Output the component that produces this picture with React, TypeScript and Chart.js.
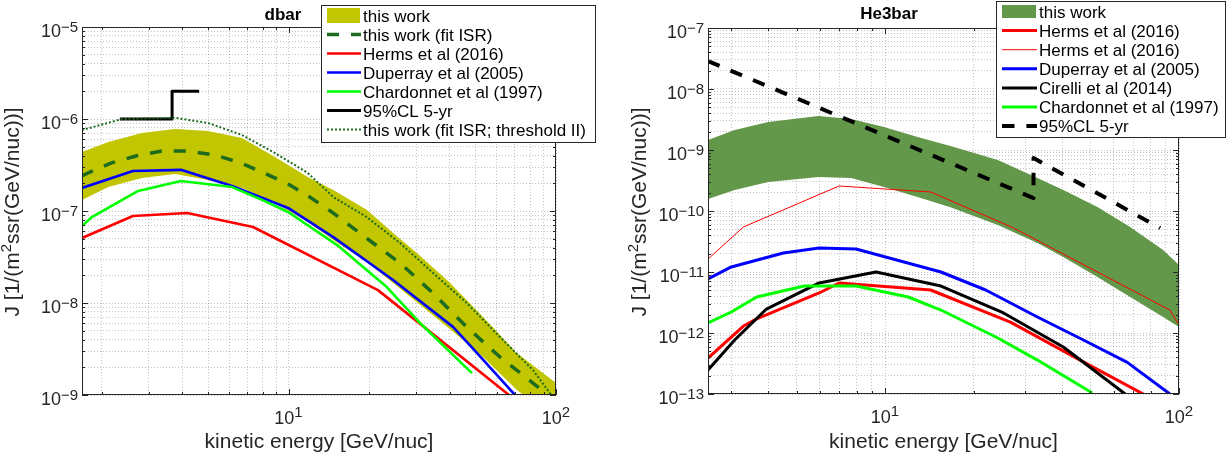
import React, { useEffect, useRef } from "react";
import { Chart, registerables } from "chart.js";

Chart.register(...registerables);

const FONT = '"Liberation Sans", Arial, Helvetica, sans-serif';
const AXIS_COLOR = "#262626";
const W = 616;
const H = 457;

// ---------------- dbar panel data ----------------
const DBAR_BAND_E = [1.69, 2.12, 2.83, 3.77, 5.0, 6.7, 8.9, 11.8, 14.7, 19.6, 24.6, 30.2, 40.2, 53.4, 71.4, 100];
const DBAR_BAND_HI = [4.38e-7, 5.62e-7, 7.05e-7, 7.78e-7, 7.4e-7, 6.2e-7, 3.86e-7, 2.34e-7, 1.69e-7, 1.03e-7, 5.77e-8, 3.49e-8, 1.65e-8, 7.05e-9, 2.86e-9, 1.35e-9];
const DBAR_BAND_LO = [1.32e-7, 1.82e-7, 2.29e-7, 2.52e-7, 2.17e-7, 1.78e-7, 1.22e-7, 7.6e-8, 4.84e-8, 2.79e-8, 1.65e-8, 1.02e-8, 5.2e-9, 2.59e-9, 1.13e-9, 5.4e-10];

const DBAR_FIT_E = [1.69, 1.78, 2.18, 2.69, 3.37, 4.21, 5.31, 6.64, 8.1, 9.96, 12.0, 14.7, 20.7, 26.1, 34.7, 46.4, 61.7, 82, 100];
const DBAR_FIT_J = [2.4e-7, 2.59e-7, 3.33e-7, 3.96e-7, 4.49e-7, 4.49e-7, 4.06e-7, 3.33e-7, 2.59e-7, 1.96e-7, 1.42e-7, 9.5e-8, 4.49e-8, 2.72e-8, 1.28e-8, 5.48e-9, 2.59e-9, 1.35e-9, 8.5e-10];

const DBAR_HERMS_E = [1.69, 2.62, 4.18, 7.37, 21.6, 66.7, 100];
const DBAR_HERMS_J = [5.09e-8, 8.83e-8, 9.5e-8, 6.7e-8, 1.38e-8, 1e-9, 3.9e-10];

const DBAR_DUP_E = [1.69, 2.62, 3.96, 6.15, 9.96, 14.7, 24.6, 41.2, 50.7, 71.4, 100];
const DBAR_DUP_J = [1.78e-7, 2.72e-7, 2.8e-7, 1.87e-7, 1.08e-7, 5.2e-8, 1.78e-8, 5.5e-9, 2.86e-9, 9.5e-10, 3.3e-10];

const DBAR_CHAR_E = [1.69, 1.84, 2.74, 3.96, 6.15, 7.96, 9.96, 15.2, 23.3, 31, 48.5];
const DBAR_CHAR_J = [6.87e-8, 8.6e-8, 1.65e-7, 2.12e-7, 1.82e-7, 1.32e-7, 9.75e-8, 4.26e-8, 1.49e-8, 6.07e-9, 1.73e-9];

const DBAR_CL_E = [2.34, 3.67, 3.67, 4.63];
const DBAR_CL_J = [1e-6, 1e-6, 2e-6, 2e-6];

const DBAR_THR_E = [1.69, 2.39, 3.77, 5.0, 6.7, 8.9, 11.8, 14.7, 19.6, 26.1, 34.7, 46.4, 61.7, 82, 100];
const DBAR_THR_J = [7.58e-7, 1.0e-6, 1.03e-6, 9.05e-7, 6.7e-7, 4.27e-7, 2.59e-7, 1.42e-7, 8.6e-8, 4.49e-8, 2.12e-8, 1e-8, 4.27e-9, 1.87e-9, 8.5e-10];

// ---------------- He3bar panel data ----------------
const HE_BAND_E = [2.5, 3.08, 4.01, 5.93, 7.67, 9.92, 12.9, 16.7, 24.2, 33.0, 40.4, 52.8, 68.2, 88.3, 100];
const HE_BAND_HI = [1.46e-9, 2.13e-9, 2.88e-9, 3.61e-9, 3.22e-9, 2.38e-9, 1.63e-9, 1.16e-9, 6.86e-10, 3.48e-10, 2.21e-10, 1.16e-10, 5.47e-11, 2.3e-11, 1.3e-11];
const HE_BAND_LO = [1.57e-10, 2.21e-10, 2.99e-10, 3.6e-10, 3.48e-10, 2.47e-10, 1.7e-10, 1.15e-10, 5.89e-11, 2.99e-11, 1.76e-11, 8.28e-12, 3.89e-12, 1.83e-12, 1.25e-12];

const HE_HERMS_E = [2.5, 3.3, 3.66, 5.97, 6.98, 14.3, 26.7, 46.1, 76.7, 100];
const HE_HERMS_J = [3.89e-13, 1.3e-12, 1.7e-12, 4.53e-12, 6.61e-12, 5.07e-12, 1.51e-12, 3.6e-13, 9.6e-14, 4e-14];

const HE_HERMS2_E = [2.5, 3.3, 6.98, 14.3, 27.4, 93.1, 100];
const HE_HERMS2_J = [1.63e-11, 5.47e-11, 2.57e-10, 2.05e-10, 5.26e-11, 2.38e-12, 1.35e-12];

const HE_DUP_E = [2.5, 3.0, 4.51, 5.97, 7.97, 15.5, 22.0, 33.0, 47.3, 66.7, 93.1, 100];
const HE_DUP_J = [7.67e-12, 1.21e-11, 2.05e-11, 2.47e-11, 2.38e-11, 1e-11, 5.07e-12, 1.83e-12, 7.67e-13, 3.3e-13, 1e-13, 8e-14];

const HE_CIR_E = [2.5, 3.08, 3.95, 5.97, 9.32, 15.5, 25.3, 40.4, 65.6, 80];
const HE_CIR_J = [2.47e-13, 7.67e-13, 2.47e-12, 6.61e-12, 1e-11, 5.89e-12, 2.13e-12, 5.89e-13, 1e-13, 4e-14];

const HE_CHAR_E = [2.5, 3.0, 3.66, 5.31, 7.97, 12.0, 15.5, 24.2, 33.0, 50.7];
const HE_CHAR_J = [1.46e-12, 2.21e-12, 3.89e-12, 5.89e-12, 5.89e-12, 3.89e-12, 2.38e-12, 8.28e-13, 3.6e-13, 1.04e-13];

const HE_CL_E = [2.5, 32.0, 32.0, 86.3];
const HE_CL_J = [2.87e-8, 1.63e-10, 7.4e-10, 5.26e-11];

// ---------------- types ----------------
type Series = { label: string; x: number[]; y: number[]; color: string; width: number; dash?: number[] };
type Band = { label: string; x: number[]; hi: number[]; lo: number[]; color: string };
type Legend = { left: number; top: number; right: number; bottom: number; row0: number; dy: number; s0: number; s1: number; tx: number; patchH: number };
type PanelCfg = {
  title: string; titleX: number; titleY: number;
  xMin: number; xMax: number; yMin: number; yMax: number;
  area: { left: number; top: number; right: number; bottom: number };
  yTitleX: number;
  band: Band; series: Series[]; legend: Legend;
};

const RED = "#ff0000";
const BLUE = "#0000ff";
const GREEN = "#00ff00";
const DKGREEN = "#1c6b1f";

const LEFT: PanelCfg = {
  title: "dbar", titleX: 283, titleY: 20,
  xMin: 1.69, xMax: 100, yMin: 1e-9, yMax: 1e-5,
  area: { left: 82, top: 27, right: 556, bottom: 395 },
  yTitleX: 19,
  band: { label: "this work", x: DBAR_BAND_E, hi: DBAR_BAND_HI, lo: DBAR_BAND_LO, color: "rgb(194,198,0)" },
  series: [
    { label: "this work (fit ISR)", x: DBAR_FIT_E, y: DBAR_FIT_J, color: DKGREEN, width: 3.5, dash: [12, 12] },
    { label: "Herms et al (2016)", x: DBAR_HERMS_E, y: DBAR_HERMS_J, color: RED, width: 2.6 },
    { label: "Duperray et al (2005)", x: DBAR_DUP_E, y: DBAR_DUP_J, color: BLUE, width: 2.6 },
    { label: "Chardonnet et al (1997)", x: DBAR_CHAR_E, y: DBAR_CHAR_J, color: GREEN, width: 2.6 },
    { label: "95%CL 5-yr", x: DBAR_CL_E, y: DBAR_CL_J, color: "#000000", width: 3 },
    { label: "this work (fit ISR; threshold II)", x: DBAR_THR_E, y: DBAR_THR_J, color: DKGREEN, width: 2, dash: [2, 2] },
  ],
  legend: { left: 321, top: 5, right: 596, bottom: 143, row0: 15.5, dy: 19, s0: 327, s1: 361, tx: 363, patchH: 15 },
};

const RIGHT: PanelCfg = {
  title: "He3bar", titleX: 273, titleY: 19,
  xMin: 2.5, xMax: 100, yMin: 1e-13, yMax: 1e-7,
  area: { left: 92, top: 28, right: 563, bottom: 394 },
  yTitleX: 29.5,
  band: { label: "this work", x: HE_BAND_E, hi: HE_BAND_HI, lo: HE_BAND_LO, color: "rgb(99,151,74)" },
  series: [
    { label: "Herms et al (2016)", x: HE_HERMS_E, y: HE_HERMS_J, color: RED, width: 3 },
    { label: "Herms et al (2016)", x: HE_HERMS2_E, y: HE_HERMS2_J, color: RED, width: 1 },
    { label: "Duperray et al (2005)", x: HE_DUP_E, y: HE_DUP_J, color: BLUE, width: 3 },
    { label: "Cirelli et al (2014)", x: HE_CIR_E, y: HE_CIR_J, color: "#000000", width: 3 },
    { label: "Chardonnet et al (1997)", x: HE_CHAR_E, y: HE_CHAR_J, color: GREEN, width: 3 },
    { label: "95%CL 5-yr", x: HE_CL_E, y: HE_CL_J, color: "#000000", width: 4, dash: [12.5, 11.9] },
  ],
  legend: { left: 380, top: 1, right: 610, bottom: 138, row0: 11.5, dy: 19.1, s0: 386, s1: 421, tx: 423, patchH: 13 },
};

// ---------------- helpers ----------------
function logTicks(min: number, max: number): number[] {
  const out: number[] = [];
  for (let e = Math.floor(Math.log10(min)); e <= Math.ceil(Math.log10(max)); e++) {
    for (let k = 1; k <= 9; k++) {
      const v = k * Math.pow(10, e);
      if (v >= min * 0.9999 && v <= max * 1.0001) out.push(v);
    }
  }
  return out;
}
const isMajor = (v: number) => Math.abs(Math.log10(v) - Math.round(Math.log10(v))) < 1e-6;

function drawPow(ctx: CanvasRenderingContext2D, x: number, y: number, exp: number, mode: "right" | "center", baseDy: number, expDy: number) {
  const base = "10";
  const ex = exp < 0 ? "\u2212" + String(-exp) : String(exp);
  ctx.font = `18px ${FONT}`;
  const wb = ctx.measureText(base).width;
  ctx.font = `15px ${FONT}`;
  const we = ctx.measureText(ex).width;
  const w = wb + we;
  const x0 = mode === "right" ? x - w : x - w / 2;
  ctx.textAlign = "left";
  ctx.textBaseline = "alphabetic";
  ctx.font = `18px ${FONT}`;
  ctx.fillText(base, x0, y + baseDy);
  ctx.font = `15px ${FONT}`;
  ctx.fillText(ex, x0 + wb, y + expDy);
}

function makeDecor(cfg: PanelCfg, xTicks: number[], yTicks: number[]) {
  return {
    id: "decor",
    afterDraw(chart: any) {
      const ctx: CanvasRenderingContext2D = chart.ctx;
      const a = chart.chartArea;
      const xs = chart.scales.x;
      const ys = chart.scales.y;
      ctx.save();
      ctx.setLineDash([]);
      ctx.strokeStyle = AXIS_COLOR;
      ctx.fillStyle = AXIS_COLOR;
      ctx.lineWidth = 1;
      const line = (x1: number, y1: number, x2: number, y2: number) => {
        ctx.beginPath();
        ctx.moveTo(x1, y1);
        ctx.lineTo(x2, y2);
        ctx.stroke();
      };
      // box
      ctx.strokeRect(a.left + 0.5, a.top + 0.5, a.right - a.left - 1, a.bottom - a.top - 1);
      // ticks (inward, all four sides)
      for (const v of xTicks) {
        const px = Math.round(xs.getPixelForValue(v)) + 0.5;
        const len = isMajor(v) ? 6 : 3;
        line(px, a.bottom, px, a.bottom - len);
        line(px, a.top, px, a.top + len);
      }
      for (const v of yTicks) {
        const py = Math.round(ys.getPixelForValue(v)) + 0.5;
        const len = isMajor(v) ? 6 : 3;
        line(a.left, py, a.left + len, py);
        line(a.right, py, a.right - len, py);
      }
      // tick labels
      for (const v of xTicks) {
        if (!isMajor(v)) continue;
        const px = xs.getPixelForValue(v);
        drawPow(ctx, px, a.bottom, Math.round(Math.log10(v)), "center", 29, 22);
      }
      for (const v of yTicks) {
        if (!isMajor(v)) continue;
        const py = ys.getPixelForValue(v);
        drawPow(ctx, a.left - 4, py, Math.round(Math.log10(v)), "right", 10, 4.5);
      }
      // x axis title
      ctx.font = `21px ${FONT}`;
      ctx.textAlign = "center";
      ctx.textBaseline = "alphabetic";
      ctx.fillText("kinetic energy [GeV/nuc]", (a.left + a.right) / 2, 448);
      // y axis title (rotated, with superscript)
      const parts = [
        { t: "J [1/(m", s: 21, dy: 0 },
        { t: "2", s: 15, dy: -8 },
        { t: "ssr(GeV/nuc))]", s: 21, dy: 0 },
      ];
      let tw = 0;
      for (const p of parts) {
        ctx.font = `${p.s}px ${FONT}`;
        tw += ctx.measureText(p.t).width;
      }
      ctx.save();
      ctx.translate(cfg.yTitleX, (a.top + a.bottom) / 2 + 1);
      ctx.rotate(-Math.PI / 2);
      ctx.textAlign = "left";
      let cx = -tw / 2;
      for (const p of parts) {
        ctx.font = `${p.s}px ${FONT}`;
        ctx.fillText(p.t, cx, p.dy);
        cx += ctx.measureText(p.t).width;
      }
      ctx.restore();
      // title
      ctx.font = `bold 17px ${FONT}`;
      ctx.textAlign = "center";
      ctx.fillStyle = "#000000";
      ctx.fillText(cfg.title, cfg.titleX, cfg.titleY);
      // legend
      const L = cfg.legend;
      ctx.fillStyle = "#ffffff";
      ctx.fillRect(L.left, L.top, L.right - L.left, L.bottom - L.top);
      ctx.strokeStyle = AXIS_COLOR;
      ctx.lineWidth = 1;
      ctx.strokeRect(L.left + 0.5, L.top + 0.5, L.right - L.left - 1, L.bottom - L.top - 1);
      const items: any[] = [{ kind: "patch", label: cfg.band.label, color: cfg.band.color }].concat(
        cfg.series.map((s) => ({ kind: "line", label: s.label, color: s.color, width: s.width, dash: s.dash || [] }))
      );
      items.forEach((it, i) => {
        const ry = L.row0 + L.dy * i;
        if (it.kind === "patch") {
          ctx.fillStyle = it.color;
          ctx.fillRect(L.s0, ry - L.patchH / 2, L.s1 - L.s0 - 1, L.patchH);
        } else {
          ctx.strokeStyle = it.color;
          ctx.lineWidth = it.width;
          ctx.lineCap = "butt";
          ctx.setLineDash(it.dash);
          ctx.beginPath();
          ctx.moveTo(L.s0, ry);
          ctx.lineTo(L.s1, ry);
          ctx.stroke();
          ctx.setLineDash([]);
        }
        ctx.fillStyle = "#000000";
        ctx.font = `17px ${FONT}`;
        ctx.textAlign = "left";
        ctx.textBaseline = "alphabetic";
        ctx.fillText(it.label, L.tx, ry + 6);
      });
      ctx.restore();
    },
  };
}

function Panel({ cfg }: { cfg: PanelCfg }) {
  const ref = useRef<HTMLCanvasElement>(null);
  useEffect(() => {
    const canvas = ref.current;
    if (!canvas) return;
    const xTicks = logTicks(cfg.xMin, cfg.xMax);
    const yTicks = logTicks(cfg.yMin, cfg.yMax);
    const b = cfg.band;
    const datasets: any[] = [
      {
        label: b.label,
        data: b.x.map((x, i) => ({ x, y: b.hi[i] })),
        borderColor: "rgba(0,0,0,0)",
        borderWidth: 0,
        backgroundColor: b.color,
        fill: "+1",
        pointRadius: 0,
        order: 1000,
        clip: 0,
      },
      {
        label: b.label + " (lower)",
        data: b.x.map((x, i) => ({ x, y: b.lo[i] })),
        borderColor: "rgba(0,0,0,0)",
        borderWidth: 0,
        backgroundColor: "rgba(0,0,0,0)",
        fill: false,
        pointRadius: 0,
        order: 999,
        clip: 0,
      },
    ];
    cfg.series.forEach((s, i) => {
      datasets.push({
        label: s.label,
        data: s.x.map((x, k) => ({ x, y: s.y[k] })),
        borderColor: s.color,
        borderWidth: s.width,
        borderDash: s.dash || [],
        borderCapStyle: "butt",
        borderJoinStyle: "round",
        fill: false,
        pointRadius: 0,
        tension: 0,
        order: 100 - i,
        clip: 0,
      });
    });
    const gridCommon = { color: "rgba(38,38,38,0.28)", lineWidth: 1, drawTicks: false };
    const chart = new Chart(canvas, {
      type: "line",
      data: { datasets },
      options: {
        animation: false,
        responsive: false,
        devicePixelRatio: 1,
        layout: { padding: { left: 0, top: cfg.area.top, right: W - cfg.area.right, bottom: 0 } },
        plugins: { legend: { display: false }, tooltip: { enabled: false }, title: { display: false } },
        scales: {
          x: {
            type: "logarithmic",
            min: cfg.xMin,
            max: cfg.xMax,
            afterBuildTicks: (s: any) => {
              s.ticks = xTicks.map((v) => ({ value: v, major: isMajor(v) }));
            },
            afterFit: (s: any) => {
              s.height = H - cfg.area.bottom;
            },
            ticks: { display: false },
            grid: gridCommon,
            border: { display: false, dash: [1, 2] },
          },
          y: {
            type: "logarithmic",
            min: cfg.yMin,
            max: cfg.yMax,
            afterBuildTicks: (s: any) => {
              s.ticks = yTicks.map((v) => ({ value: v, major: isMajor(v) }));
            },
            afterFit: (s: any) => {
              s.width = cfg.area.left;
            },
            ticks: { display: false },
            grid: gridCommon,
            border: { display: false, dash: [1, 2] },
          },
        },
      } as any,
      plugins: [makeDecor(cfg, xTicks, yTicks)],
    });
    return () => chart.destroy();
  }, [cfg]);
  return <canvas ref={ref} width={W} height={H} style={{ display: "block", width: W, height: H }} />;
}

export default function App() {
  return (
    <div style={{ position: "absolute", left: 0, top: 0, width: 1232, height: 457, background: "#ffffff", display: "flex" }}>
      <Panel cfg={LEFT} />
      <Panel cfg={RIGHT} />
    </div>
  );
}
